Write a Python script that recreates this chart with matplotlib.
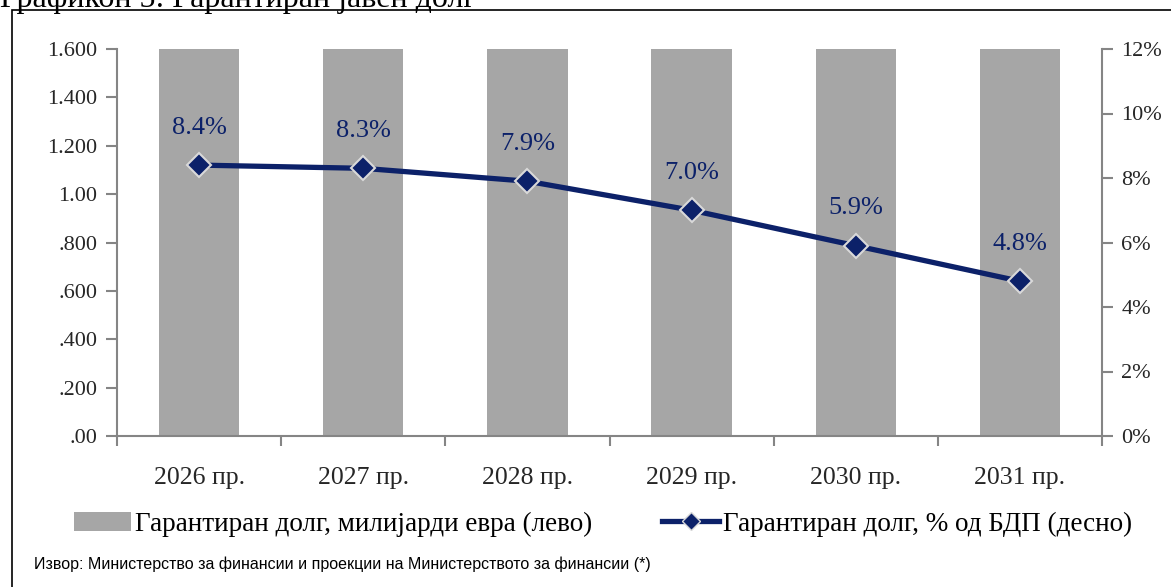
#!/usr/bin/env python
# -*- coding: utf-8 -*-

import matplotlib
matplotlib.use('Agg')
import matplotlib.pyplot as plt
import numpy as np
from matplotlib.lines import Line2D
from matplotlib.patches import Patch, Rectangle

# Data
years = ['2026 пр.', '2027 пр.', '2028 пр.', '2029 пр.', '2030 пр.', '2031 пр.']
debt_bn = [1.6, 1.6, 1.6, 1.6, 1.6, 1.6]          # bars run off the top of the axis
debt_pct = [8.4, 8.3, 7.9, 7.0, 5.9, 4.8]
left_ticks = [0, 0.2, 0.4, 0.6, 0.8, 1.0, 1.2, 1.4, 1.6]
left_labels = ['.00', '.200', '.400', '.600', '.800', '1.00', '1.200', '1.400', '1.600']
right_ticks = [0, 2, 4, 6, 8, 10, 12]

bar_color = '#a6a6a6'
line_color = '#0c2169'
axis_color = '#858585'
text_color = '#262626'
serif = 'Liberation Serif'

fig = plt.figure(figsize=(11.71, 5.87), dpi=100)

# outer frame (cut by the right / bottom edges) and truncated title
fig.patches.append(Rectangle((12 / 1171, -0.05), 1.1, 1 - 10 / 587 + 0.05,
                             transform=fig.transFigure, fill=False,
                             edgecolor='black', linewidth=1.2))
fig.text(0.0, 1.0, 'Графикон 5: Гарантиран јавен долг', fontsize=23,
         family=serif, va='center', ha='left', color='black')

ax1 = fig.add_axes([117 / 1171, 1 - 436 / 587, 985 / 1171, 387 / 587])
x = np.arange(len(years))
ax1.bar(x, debt_bn, width=0.49, color=bar_color, zorder=1)
ax1.set_xlim(-0.5, len(years) - 0.5)
ax1.set_ylim(0, 1.6)
ax1.set_yticks(left_ticks)
ax1.set_yticklabels(left_labels, family=serif, fontsize=16, color=text_color)

# category labels centred, tick marks between categories
ax1.set_xticks(np.arange(-0.5, len(years)), minor=False)
ax1.set_xticklabels([])
ax1.set_xticks(x, minor=True)
ax1.set_xticklabels(years, minor=True, family=serif, fontsize=18.5, color=text_color)
ax1.tick_params(axis='x', which='major', length=7, color=axis_color, width=1.5)
ax1.tick_params(axis='x', which='minor', length=0, pad=22)
ax1.tick_params(axis='y', length=8, color=axis_color, width=1.5, pad=6)

for s in ['top', 'right']:
    ax1.spines[s].set_visible(False)
for s in ['left', 'bottom']:
    ax1.spines[s].set_color(axis_color)
    ax1.spines[s].set_linewidth(1.5)

ax2 = ax1.twinx()
ax2.plot(x, debt_pct, color=line_color, linewidth=3.8, marker='D',
         markersize=12, markerfacecolor=line_color, markeredgecolor='#d9d9d9',
         markeredgewidth=1.5, zorder=3)
ax2.set_ylim(0, 12)
ax2.set_yticks(right_ticks)
ax2.set_yticklabels(['{}%'.format(t) for t in right_ticks], family=serif,
                    fontsize=16, color=text_color)
ax2.tick_params(axis='y', length=8, color=axis_color, width=1.5, pad=6)
for s in ['top', 'left', 'bottom']:
    ax2.spines[s].set_visible(False)
ax2.spines['right'].set_color(axis_color)
ax2.spines['right'].set_linewidth(1.5)

for xi, v in zip(x, debt_pct):
    ax2.annotate('{:.1f}%'.format(v), (xi, v), xytext=(0, 27),
                 textcoords='offset points', ha='center', va='center',
                 family=serif, fontsize=19, color=line_color)

# legend
handles = [Patch(facecolor=bar_color, edgecolor='none'),
           Line2D([0], [0], color=line_color, linewidth=3.8, marker='D',
                  markersize=9, markerfacecolor=line_color,
                  markeredgecolor='#d9d9d9')]
labels = ['Гарантиран долг, милијарди евра (лево)',
          'Гарантиран долг, % од БДП (десно)']
fig.legend(handles, labels, loc='center', bbox_to_anchor=(0.515, 1 - 524 / 587),
           ncol=2, frameon=False, columnspacing=2.6, handlelength=2.1,
           handletextpad=0.15, prop={'family': serif, 'size': 19.5})

fig.text(34 / 1171, 1 - 564 / 587,
         'Извор: Министерство за финансии и проекции на Министерството за финансии (*)',
         fontsize=11.5, family='Liberation Sans', va='center', ha='left',
         color='black')

fig.savefig('out.png', dpi=100)
